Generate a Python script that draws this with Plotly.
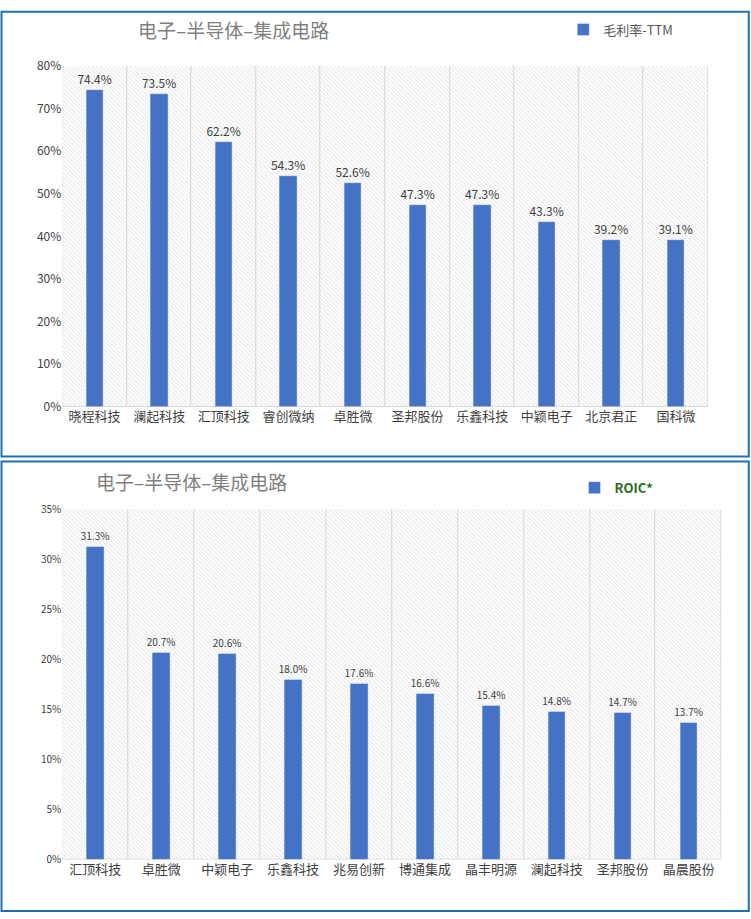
import plotly.graph_objects as go

names1 = ['晓程科技', '澜起科技', '汇顶科技', '睿创微纳', '卓胜微', '圣邦股份', '乐鑫科技', '中颖电子', '北京君正', '国科微']
gross_margin = [74.4, 73.5, 62.2, 54.3, 52.6, 47.3, 47.3, 43.3, 39.2, 39.1]

names2 = ['汇顶科技', '卓胜微', '中颖电子', '乐鑫科技', '兆易创新', '博通集成', '晶丰明源', '澜起科技', '圣邦股份', '晶晨股份']
roic = [31.3, 20.7, 20.6, 18.0, 17.6, 16.6, 15.4, 14.8, 14.7, 13.7]

title = '电子–半导体–集成电路'
blue = '#4472C4'
font = 'Noto Sans CJK SC'

fig = go.Figure()

# hatched plot background drawn as full-height bars
for names, top, xa, ya in [(names1, 80, 'x', 'y'), (names2, 35, 'x2', 'y2')]:
    fig.add_trace(go.Bar(x=names, y=[top] * len(names), width=1, xaxis=xa, yaxis=ya,
                         marker=dict(color='white', line=dict(color='#d9d9d9', width=1),
                                     pattern=dict(shape='\\', fgcolor='#c4c4c4', size=3, solidity=0.3)),
                         hoverinfo='skip', showlegend=False))

fig.add_trace(go.Bar(x=names1, y=gross_margin, width=0.27, marker_color=blue, name='毛利率-TTM',
                     text=[f'{v:.1f}%' for v in gross_margin], textposition='outside', constraintext='none',
                     textfont=dict(size=12, color='#404040'), cliponaxis=False, legend='legend'))
fig.add_trace(go.Bar(x=names2, y=roic, width=0.27, marker_color=blue, name='ROIC*',
                     xaxis='x2', yaxis='y2', constraintext='none',
                     text=[f'{v:.1f}%' for v in roic], textposition='outside',
                     textfont=dict(size=10, color='#404040'), cliponaxis=False, legend='legend2'))

ax = dict(showgrid=False, ticks='', tickfont=dict(size=13, color='#404040'), showline=False)
yx = dict(gridcolor='#d9d9d9', ticksuffix='%', zeroline=False, tickfont=dict(color='#404040'), layer='above traces')

fig.update_layout(
    width=751, height=919, margin=dict(l=0, r=0, t=0, b=0),
    paper_bgcolor='white', plot_bgcolor='white', font=dict(family=font),
    barmode='overlay', bargap=0,
    xaxis=dict(ax, domain=[0.083, 0.943], anchor='y'),
    yaxis=dict(yx, domain=[0.560, 0.938], range=[0, 80], dtick=10, tickfont=dict(size=12, color='#404040'), anchor='x'),
    xaxis2=dict(ax, domain=[0.083, 0.961], anchor='y2'),
    yaxis2=dict(yx, domain=[0.058, 0.446], range=[0, 35], dtick=5, tickfont=dict(size=10, color='#404040'), anchor='x2'),
    legend=dict(x=0.75, y=0.995, xanchor='left', yanchor='top', itemwidth=30,
                font=dict(size=13, color='#595959'), bgcolor='rgba(0,0,0,0)'),
    legend2=dict(x=0.765, y=0.487, xanchor='left', yanchor='top', itemwidth=30,
                 font=dict(size=13, color='#2e6b1f', weight='bold'), bgcolor='rgba(0,0,0,0)'),
    annotations=[
        dict(text=title, x=233 / 751, y=1 - 20 / 919, xref='paper', yref='paper', showarrow=False,
             xanchor='center', yanchor='middle', font=dict(size=19, color='#7f7f7f')),
        dict(text=title, x=191 / 751, y=1 - 480 / 919, xref='paper', yref='paper', showarrow=False,
             xanchor='center', yanchor='middle', font=dict(size=19, color='#7f7f7f')),
    ],
    shapes=[
        dict(type='rect', xref='paper', yref='paper', x0=0.002, x1=0.997, y0=1 - 455 / 919, y1=0.998,
             line=dict(color='#1f6fb5', width=2)),
        dict(type='rect', xref='paper', yref='paper', x0=0.002, x1=0.997, y0=0.001, y1=1 - 460 / 919,
             line=dict(color='#1f6fb5', width=2)),
    ],
)

fig.write_html('out.html', config={'displayModeBar': False},
               post_script="document.body.style.margin='0';var g=document.getElementById('{plot_id}');"
                           "g.style.position='absolute';g.style.top='0';g.style.left='0';")
